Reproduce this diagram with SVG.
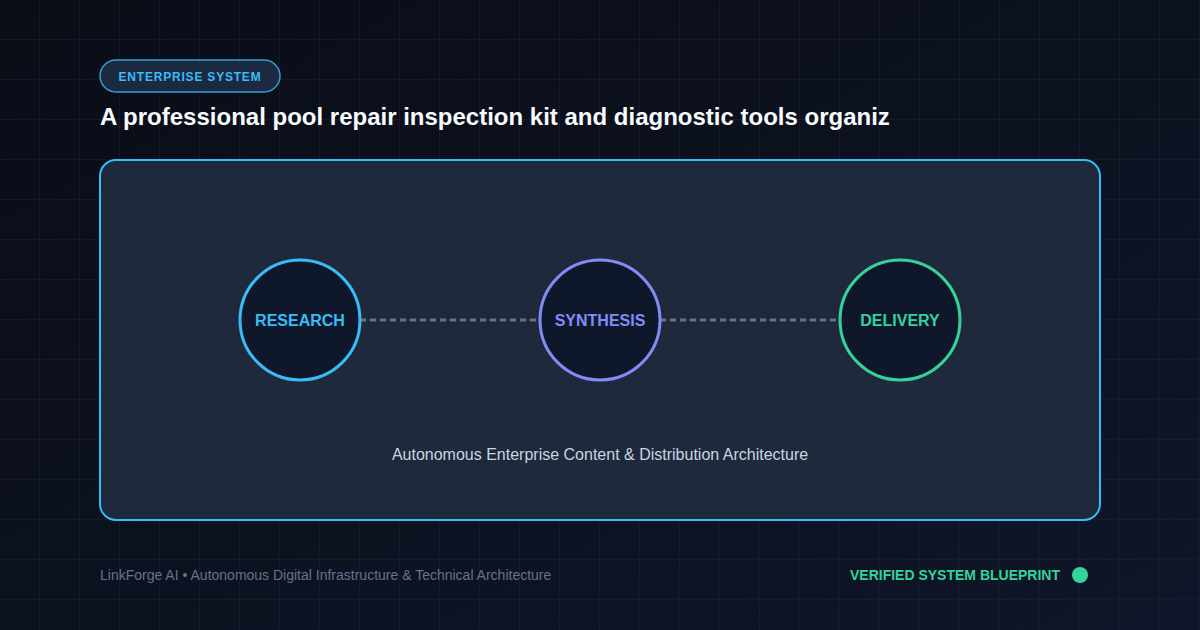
<svg xmlns="http://www.w3.org/2000/svg" width="1200" height="630" viewBox="0 0 1200 630">
<defs>
<linearGradient id="bg" x1="0" y1="0" x2="1" y2="1">
<stop offset="0" stop-color="#0a0d16"/>
<stop offset="1" stop-color="#0f1629"/>
</linearGradient>
<pattern id="grid" width="40" height="40" patternUnits="userSpaceOnUse">
<path d="M40 0V40M0 40H40" fill="none" stroke="#1a2233" stroke-width="1"/>
</pattern>
<style>
.guide{stroke:#334155;stroke-width:1;stroke-dasharray:4 4;opacity:0.6}
.conn{stroke:#6b7280;stroke-width:3;stroke-dasharray:6 4;fill:none}
.node{fill:#0f172a;stroke-width:3}
.lbl{font-family:"Liberation Sans",Arial,sans-serif;font-weight:bold;font-size:16px;text-anchor:middle}
</style>
</defs>
<rect width="1200" height="630" fill="url(#bg)"/>
<rect width="1200" height="630" fill="url(#grid)"/>
<g id="badge">
<rect x="100" y="60" width="180" height="32" rx="16" fill="#1b2a40" stroke="#3a9bd5" stroke-width="1.5"/>
<text x="190" y="81" font-family="'Liberation Sans',Arial,sans-serif" font-weight="bold" font-size="12" letter-spacing="0.8" fill="#38bdf8" text-anchor="middle">ENTERPRISE SYSTEM</text>
</g>
<text id="title" x="100" y="125" font-family="'Liberation Sans',Arial,sans-serif" font-weight="bold" font-size="24" fill="#f8fafc">A professional pool repair inspection kit and diagnostic tools organiz</text>
<g id="panel">
<rect x="100" y="160" width="1000" height="360" rx="16" fill="#1e293b" stroke="#38bdf8" stroke-width="2"/>
<line class="guide" x1="160" y1="240" x2="1040" y2="240"/>
<line class="guide" x1="160" y1="320" x2="1040" y2="320"/>
<line class="guide" x1="160" y1="400" x2="1040" y2="400"/>
</g>
<g id="connectors">
<line class="conn" x1="360" y1="320" x2="540" y2="320"/>
<line class="conn" x1="660" y1="320" x2="840" y2="320"/>
</g>
<g id="research">
<circle class="node" cx="300" cy="320" r="60" stroke="#38bdf8"/>
<text class="lbl" x="300" y="326" fill="#38bdf8">RESEARCH</text>
</g>
<g id="synthesis">
<circle class="node" cx="600" cy="320" r="60" stroke="#818cf8"/>
<text class="lbl" x="600" y="326" fill="#818cf8">SYNTHESIS</text>
</g>
<g id="delivery">
<circle class="node" cx="900" cy="320" r="60" stroke="#34d399"/>
<text class="lbl" x="900" y="326" fill="#34d399">DELIVERY</text>
</g>
<text id="caption" x="600" y="460" font-family="'Liberation Sans',Arial,sans-serif" font-size="16" fill="#cbd5e1" text-anchor="middle">Autonomous Enterprise Content &amp; Distribution Architecture</text>
<text id="footer-left" x="100" y="580" font-family="'Liberation Sans',Arial,sans-serif" font-size="14" fill="#64748b">LinkForge AI • Autonomous Digital Infrastructure &amp; Technical Architecture</text>
<g id="footer-right">
<text x="1060" y="580" font-family="'Liberation Sans',Arial,sans-serif" font-weight="bold" font-size="14" fill="#34d399" text-anchor="end">VERIFIED SYSTEM BLUEPRINT</text>
<circle cx="1080" cy="575" r="8" fill="#34d399"/>
</g>
</svg>
